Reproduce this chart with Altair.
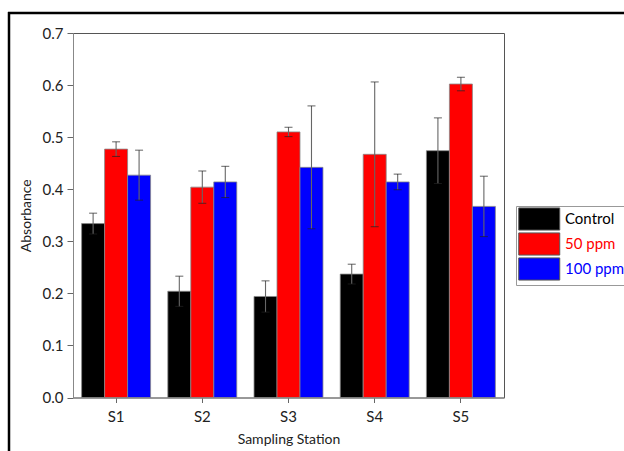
import altair as alt
import pandas as pd

stations = ["S1", "S2", "S3", "S4", "S5"]
groups = ["Control", "50 ppm", "100 ppm"]
control = [0.334, 0.204, 0.194, 0.237, 0.474]
control_err = [0.020, 0.029, 0.030, 0.019, 0.063]
ppm50 = [0.477, 0.404, 0.510, 0.467, 0.602]
ppm50_err = [0.014, 0.031, 0.009, 0.139, 0.013]
ppm100 = [0.427, 0.414, 0.442, 0.414, 0.367]
ppm100_err = [0.048, 0.030, 0.118, 0.015, 0.058]
colors = ["#000000", "#ff0000", "#0000ff"]
y_ticks = [round(i * 0.05, 2) for i in range(15)]

rows = []
for g, vals, errs in [("Control", control, control_err),
                      ("50 ppm", ppm50, ppm50_err),
                      ("100 ppm", ppm100, ppm100_err)]:
    for s, v, e in zip(stations, vals, errs):
        rows.append({"station": s, "group": g, "value": v,
                     "lo": v - e, "hi": v + e})
df = pd.DataFrame(rows)

FONT = "Lato"

x_enc = alt.X("station:N", sort=stations, title="Sampling Station",
              scale=alt.Scale(paddingInner=0.2, paddingOuter=0.1),
              axis=alt.Axis(labelAngle=0, tickSize=5, labelPadding=7,
                            titlePadding=8, domainColor="#888",
                            tickColor="#666"))
xo = alt.XOffset("group:N", sort=groups, scale=alt.Scale(paddingInner=0, paddingOuter=0))

y_axis = alt.Axis(values=y_ticks,
                  labelExpr="round(datum.value*100) % 10 == 0 ? format(datum.value, '.1f') : ''",
                  tickSize={"condition": {"test": "round(datum.value*100) % 10 == 0", "value": 6}, "value": 3},
                  labelPadding=4, titlePadding=9, domainColor="#888", tickColor="#666",
                  grid=False)

color_enc = alt.Color(
    "group:N", sort=groups,
    scale=alt.Scale(domain=groups, range=colors),
    legend=alt.Legend(
        title=None, orient="none", legendX=443, legendY=173,
        strokeColor="#999", fillColor="#ffffff", padding=2,
        symbolType="M-1,-1.08H3V1.08H-1Z", symbolSize=420,
        symbolStrokeColor="#555", symbolStrokeWidth=1, symbolOpacity=1,
        labelFontSize=15, labelFont=FONT, labelOffset=25, rowPadding=-3,
        labelColor=alt.ExprRef(expr="datum.value === '50 ppm' ? '#ff0000' : (datum.value === '100 ppm' ? '#0000ff' : '#000000')"),
    ),
)

bars = alt.Chart(df).mark_bar(stroke="#888", strokeWidth=0.8).encode(
    x=x_enc, xOffset=xo,
    y=alt.Y("value:Q", title="Absorbance",
            scale=alt.Scale(domain=[0, 0.7], nice=False), axis=y_axis),
    color=color_enc,
)

err_line = alt.Chart(df).mark_rule(color="#666", strokeWidth=1.1).encode(
    x=alt.X("station:N", sort=stations), xOffset=xo,
    y="lo:Q", y2="hi:Q",
)
cap_lo = alt.Chart(df).mark_tick(color="#222", thickness=1, size=8).encode(
    x=alt.X("station:N", sort=stations), xOffset=xo, y="lo:Q")
cap_hi = alt.Chart(df).mark_tick(color="#222", thickness=1, size=8).encode(
    x=alt.X("station:N", sort=stations), xOffset=xo, y="hi:Q")

frame_data = alt.Data(values=[{"k": 1}])
frame_top = alt.Chart(frame_data).mark_rule(color="#000", strokeWidth=2.5).encode(
    x=alt.value(-65), x2=alt.value(570), y=alt.value(-20))
frame_left = alt.Chart(frame_data).mark_rule(color="#000", strokeWidth=2.5).encode(
    x=alt.value(-64), y=alt.value(-21), y2=alt.value(440))

chart = alt.layer(bars, err_line, cap_lo, cap_hi, frame_top, frame_left).properties(
    width=431, height=364.5,
    background="#ffffff",
    autosize=alt.AutoSizeParams(type="none"),
    padding={"left": 73, "top": 33, "right": 120, "bottom": 53.5},
).configure_view(stroke="#555", strokeWidth=1).configure_axis(
    labelFont=FONT, titleFont=FONT, labelFontSize=15, titleFontSize=14,
    labelColor="#222", titleColor="#222", titleFontWeight="normal",
)

chart.save("out.html", embed_options={"renderer": "svg", "actions": False})
